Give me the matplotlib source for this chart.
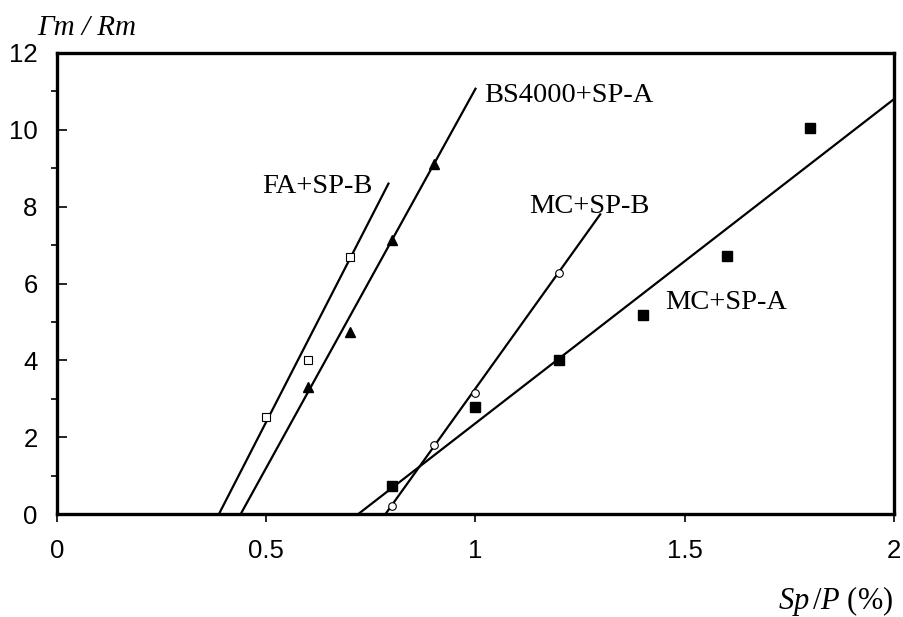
import matplotlib
matplotlib.use("Agg")
import matplotlib.pyplot as plt

plt.rcParams['mathtext.fontset'] = 'custom'
plt.rcParams['mathtext.it'] = 'Liberation Serif:italic'
plt.rcParams['mathtext.rm'] = 'Liberation Serif'

# Data points
fa_x = [0.5, 0.6, 0.7]
fa_y = [2.52, 4.02, 6.68]
bs_x = [0.6, 0.7, 0.8, 0.9]
bs_y = [3.30, 4.75, 7.12, 9.11]
mcb_x = [0.8, 0.9, 1.0, 1.2]
mcb_y = [0.22, 1.80, 3.14, 6.28]
mca_x = [0.8, 1.0, 1.2, 1.4, 1.6, 1.8]
mca_y = [0.72, 2.78, 4.02, 5.18, 6.71, 10.05]

# Fitted lines (endpoints)
fa_fit_x = [0.387, 0.792]
fa_fit_y = [0.0, 8.6]
bs_fit_x = [0.439, 1.0]
bs_fit_y = [0.0, 11.07]
mcb_fit_x = [0.785, 1.298]
mcb_fit_y = [0.0, 7.8]
mca_fit_x = [0.72, 2.0]
mca_fit_y = [0.0, 10.8]

labels = ["FA+SP-B", "BS4000+SP-A", "MC+SP-B", "MC+SP-A"]

xticks = [0, 0.5, 1, 1.5, 2]
xticklabels = ["0", "0.5", "1", "1.5", "2"]
yticks = [0, 2, 4, 6, 8, 10, 12]
yminor = [1, 3, 5, 7, 9, 11]

fig = plt.figure(figsize=(9.04, 6.17), dpi=100)
ax = fig.add_axes([57/904, 1-514/617, (894-57)/904, (514-53)/617])

lw = 1.6
ax.plot(fa_fit_x, fa_fit_y, color='black', lw=lw)
ax.plot(bs_fit_x, bs_fit_y, color='black', lw=lw)
ax.plot(mcb_fit_x, mcb_fit_y, color='black', lw=lw)
ax.plot(mca_fit_x, mca_fit_y, color='black', lw=lw)

ax.plot(fa_x, fa_y, ls='none', marker='s', ms=6, mfc='white', mec='black', mew=0.8, zorder=3)
ax.plot(bs_x, bs_y, ls='none', marker='^', ms=6.5, mfc='black', mec='black', zorder=3)
ax.plot(mcb_x, mcb_y, ls='none', marker='o', ms=5.5, mfc='white', mec='black', mew=0.8, zorder=3)
ax.plot(mca_x, mca_y, ls='none', marker='s', ms=6.5, mfc='black', mec='black', zorder=3)

tfont = dict(family='Liberation Serif', fontsize=20.5)
ax.text(0.755, 8.52, labels[0], ha='right', va='center', **tfont)
ax.text(1.021, 10.89, labels[1], ha='left', va='center', **tfont)
ax.text(1.129, 8.01, labels[2], ha='left', va='center', **tfont)
ax.text(1.453, 5.51, labels[3], ha='left', va='center', **tfont)

ax.set_xlim(0, 2)
ax.set_ylim(0, 12)
ax.set_xticks(xticks)
ax.set_xticklabels(xticklabels)
ax.set_yticks(yticks)
ax.set_yticks(yminor, minor=True)

for s in ax.spines.values():
    s.set_linewidth(2.4)

ax.tick_params(axis='x', which='major', direction='out', length=6, width=1.2, pad=12)
ax.tick_params(axis='y', which='major', direction='in', length=7, width=1.2, pad=14)
ax.tick_params(axis='y', which='minor', direction='out', length=4, width=1.2)
for lab in ax.get_xticklabels() + ax.get_yticklabels():
    lab.set_fontfamily('Liberation Sans')
    lab.set_fontsize(18.5)

fig.text(37/904, 1-28/617, "Γm / Rm", ha='left', va='center', fontsize=21,
         family='Liberation Serif', style='italic')
fig.text(893/904, 1-601/617, r"$Sp\,/P$ (%)", ha='right', va='center', fontsize=22,
         family='Liberation Serif')

fig.savefig("out.png", dpi=100)
